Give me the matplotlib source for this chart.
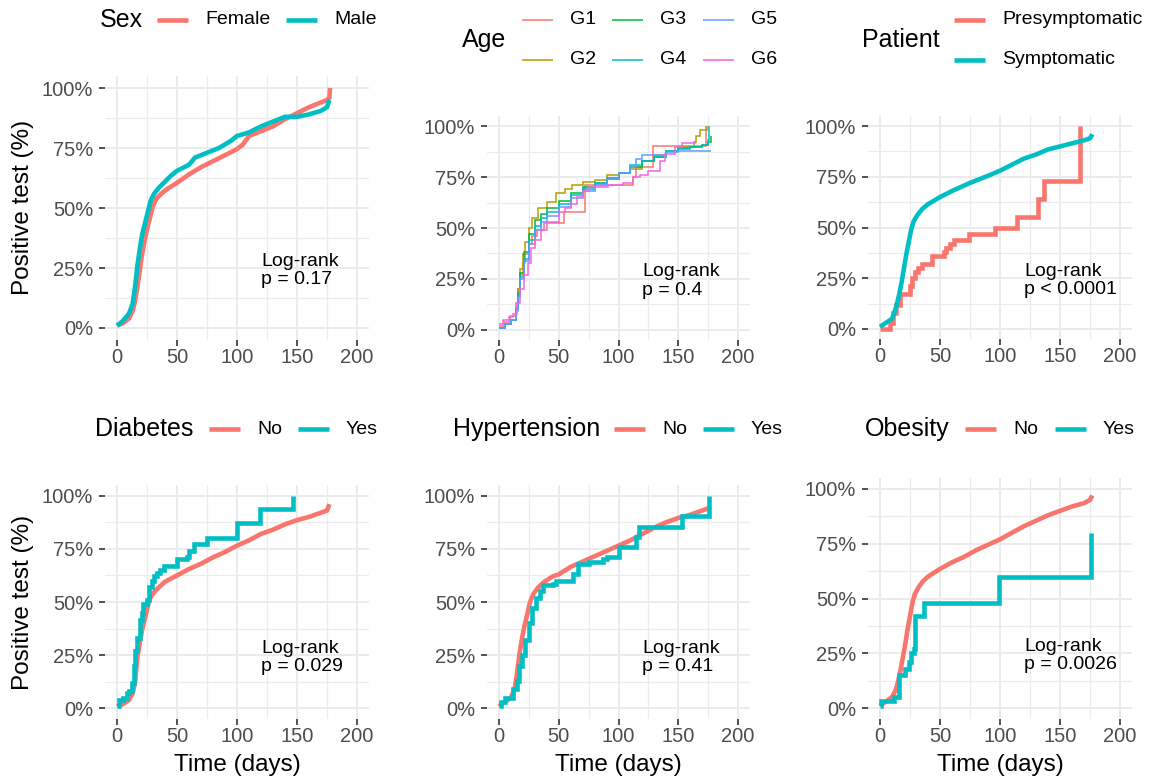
import matplotlib
matplotlib.use('Agg')
import matplotlib.pyplot as plt
from matplotlib.lines import Line2D
from matplotlib.ticker import FuncFormatter, MultipleLocator
import numpy as np

plt.rcParams['font.family'] = ['Liberation Sans', 'DejaVu Sans']

# ---- data (time in days, cumulative % positive) ----
female_t = [0, 5, 10, 13, 15, 17, 19, 21, 24, 27, 30, 33, 37, 42, 50, 60, 70, 80, 90, 100, 105, 110, 120, 130, 140, 150, 160, 170, 175, 177, 177.5]
female_y = [1, 2, 4, 7, 11, 17, 24, 31, 39, 45, 51, 54, 56, 58, 60.5, 64, 67, 69.5, 72, 74.5, 76.5, 80, 82, 84, 87, 89.5, 92, 94, 95, 96, 100]
male_t = [0, 5, 10, 13, 15, 17, 19, 21, 24, 26, 28, 31, 35, 40, 45, 50, 60, 65, 75, 85, 95, 100, 110, 120, 130, 140, 150, 160, 170, 175, 177]
male_y = [1, 3, 6, 10, 17, 26, 33, 39, 45, 49, 53, 56, 58.5, 61, 63.5, 65.5, 68, 71, 73, 75, 78, 80, 81.5, 84, 86, 88, 88, 89, 90.5, 92, 95]

g1_t = [0, 4, 9, 14, 16, 18, 20, 22, 25, 28, 32, 38, 54, 72, 112, 115, 129, 173]
g1_y = [2, 4, 7, 13, 20, 27, 33, 37, 42, 46, 49, 52.5, 58, 71, 75, 80, 90.5, 100]
g2_t = [0, 5, 10, 14, 16, 18, 20, 22, 25, 28, 33, 40, 48, 55, 61, 70, 80, 90, 100, 110, 120, 130, 140, 150, 163, 165, 168, 174]
g2_y = [1, 3, 5, 10, 20, 30, 37, 43, 50, 55, 60, 63, 67, 69, 71, 72.5, 73.5, 76, 77, 79, 83, 86, 88, 90, 92, 95, 98, 100]
g3_t = [0, 5, 10, 14, 16, 18, 21, 25, 30, 35, 40, 50, 60, 70, 80, 90, 100, 110, 120, 130, 140, 150, 160, 170, 175, 177]
g3_y = [1, 3, 5, 10, 18, 28, 38, 47, 54, 57, 60, 63.5, 67, 70, 72, 74.5, 77, 80, 83, 85, 88, 89.5, 90, 91, 92, 95]
g4_t = [0, 5, 10, 14, 16, 18, 21, 25, 30, 35, 40, 50, 60, 70, 80, 90, 100, 110, 120, 130, 140, 150, 160, 170, 175, 176]
g4_y = [1, 3, 5, 10, 17, 26, 35, 44, 51, 55, 58, 62, 66, 69, 72, 74, 77, 81, 83, 85, 88, 89, 90, 91, 93, 100]
g5_t = [0, 5, 10, 14, 16, 18, 21, 25, 30, 35, 40, 50, 60, 70, 80, 90, 100, 110, 115, 120, 140, 150, 177]
g5_y = [1, 3, 5, 9, 16, 25, 34, 42, 49, 53, 56, 60.5, 64.5, 68, 71, 74, 77, 80, 84, 86, 87.5, 88, 88]
g6_t = [0, 3, 8, 12, 15, 18, 21, 24, 27, 30, 35, 40, 50, 55, 60, 65, 70, 75, 91, 104, 112, 118, 125, 135, 139, 147, 153, 165]
g6_y = [3, 5, 6.5, 8, 13, 20, 27, 33, 40, 44, 49, 53, 58, 60, 62, 65, 68, 70, 71, 72, 75, 76, 78, 83, 86.5, 90, 91.5, 91.5]

pre_t = [0, 8, 11, 13, 17, 25, 27, 29, 32, 35, 43, 53, 55, 58, 62, 74, 96, 114, 132, 137, 167]
pre_y = [0, 3, 8, 12, 17, 21, 25, 28, 30, 32, 36, 38, 40, 42, 44, 47, 50, 55, 64, 73, 100]
symp_t = [0, 5, 10, 12, 14, 16, 18, 20, 22, 24, 26, 28, 31, 35, 40, 50, 60, 75, 90, 100, 110, 120, 130, 140, 150, 160, 170, 175, 177]
symp_y = [1, 3, 5, 8, 12, 17, 23, 30, 37, 43, 49, 53, 56, 59, 61.5, 65, 68, 72, 75.5, 78, 81, 84, 86, 88.5, 90, 91.5, 93, 94, 96]

dia_no_t = [0, 5, 10, 13, 15, 17, 19, 21, 24, 27, 30, 35, 40, 50, 60, 70, 80, 90, 100, 110, 120, 130, 140, 150, 160, 170, 175, 177]
dia_no_y = [1, 2, 4, 7, 12, 24, 31, 37, 44, 51, 54, 57, 59.5, 62.5, 65.5, 68, 71, 73.5, 76.5, 79, 82, 84, 86.5, 88.5, 90, 92, 93, 96]
dia_yes_t = [0, 2, 5, 8, 10, 12.5, 14, 15, 17, 19, 21, 22, 25, 27, 29, 31, 33, 36, 39, 50, 58, 60, 64, 75, 100, 119, 147]
dia_yes_y = [1, 4, 5, 7, 8, 12, 20, 27, 33, 41.5, 45, 49, 51, 57, 60, 62, 63.5, 65, 67, 70, 71, 74, 77.5, 80, 87, 93.7, 100]

hyp_no_t = [0, 5, 10, 13, 15, 17, 19, 21, 24, 26, 29, 33, 38, 45, 50, 60, 70, 80, 90, 100, 110, 120, 130, 140, 150, 160, 170, 175, 177]
hyp_no_y = [1, 3, 5, 9, 16, 25, 32, 38, 45, 50, 54, 57, 59.5, 62, 63, 66.5, 69, 71.5, 74, 76.5, 79, 82, 85, 87.5, 89.5, 91, 93, 94, 95]
hyp_yes_t = [0, 2, 5, 10, 12, 15, 17, 19, 22, 25, 28, 31, 34, 37, 45, 48, 61, 62, 66, 75, 87, 90, 100, 114, 115, 117, 153, 175.5]
hyp_yes_y = [1, 3, 5, 5, 9, 13, 20, 25, 32, 40, 47, 52, 55, 58, 58.5, 60, 60, 63, 68, 69, 70, 71.3, 76, 76, 80.7, 85.4, 90.4, 100]

ob_no_t = [0, 5, 10, 13, 15, 17, 19, 21, 23, 25, 27, 29, 32, 36, 40, 50, 60, 70, 80, 90, 100, 110, 120, 130, 140, 150, 160, 170, 175, 177]
ob_no_y = [1, 3, 5, 8, 12, 17, 23, 29, 36, 42, 48, 52, 55, 58, 60, 63.5, 66.5, 69, 72, 74.5, 77, 80, 83, 85.5, 88, 90, 92, 93.5, 95, 97]
ob_yes_t = [0, 1, 12, 16, 21, 24, 26, 28, 29, 37, 99, 176]
ob_yes_y = [1, 3, 5, 15, 18, 21, 25, 27, 42, 48, 60, 80]

p_values = ['p = 0.17', 'p = 0.4', 'p < 0.0001', 'p = 0.029', 'p = 0.41', 'p = 0.0026']

RED, CYAN = '#F8766D', '#00BFC4'
AGE_COLORS = ['#F8766D', '#B79F00', '#00BA38', '#00BFC4', '#619CFF', '#F564E3']

W, H = 1160, 781
fig = plt.figure(figsize=(W / 100, H / 100), dpi=100)
fig.patch.set_facecolor('white')


def fig_xy(px, py):
    return px / W, 1 - py / H


def make_axes(x0, y0, x1, y1):
    ax = fig.add_axes([x0 / W, 1 - y1 / H, (x1 - x0) / W, (y1 - y0) / H])
    ax.set_xlim(-10, 210)
    ax.set_ylim(-0.05, 1.05)
    ax.xaxis.set_major_locator(MultipleLocator(50))
    ax.xaxis.set_minor_locator(MultipleLocator(25))
    ax.yaxis.set_major_locator(MultipleLocator(0.25))
    ax.yaxis.set_minor_locator(MultipleLocator(0.125))
    ax.yaxis.set_major_formatter(FuncFormatter(lambda v, _: f'{v * 100:.0f}%'))
    ax.grid(True, which='major', color='#EBEBEB', lw=1.4)
    ax.grid(True, which='minor', color='#EBEBEB', lw=0.9)
    ax.set_axisbelow(True)
    for s in ax.spines.values():
        s.set_visible(False)
    ax.tick_params(which='major', length=4.5, width=1.2, color='#333333',
                   labelsize=14.5, labelcolor='#4D4D4D')
    ax.tick_params(axis='x', pad=1)
    ax.tick_params(axis='y', pad=4)
    ax.tick_params(which='minor', length=0)
    return ax


def draw(ax, t, y, color, lw, steps):
    ax.plot(t, np.array(y) / 100, color=color, lw=lw,
            drawstyle='steps-post' if steps else 'default',
            solid_joinstyle='miter', solid_capstyle='butt')


def legend(title, tx, ty, entries, lw):
    # entries: (label, color, line_x, line_y)
    fig.text(*fig_xy(tx, ty), title, fontsize=18, ha='left', va='center')
    for label, color, lx, ly in entries:
        x0, yy = fig_xy(lx, ly)
        x1, _ = fig_xy(lx + 31, ly)
        fig.add_artist(Line2D([x0, x1], [yy, yy], color=color, lw=lw,
                              solid_capstyle='butt', transform=fig.transFigure))
        fig.text(*fig_xy(lx + 48, ly), label, fontsize=14, ha='left', va='center')


THICK, THIN = 3.3, 1.1

# Sex
ax1 = make_axes(105, 76, 369, 340)
draw(ax1, female_t, female_y, RED, THICK, False)
draw(ax1, male_t, male_y, CYAN, THICK, False)
legend('Sex', 100, 20, [('Female', RED, 157, 20), ('Male', CYAN, 286, 20)], THICK)

# Age
ax2 = make_axes(487, 116, 750, 340)
age_series = [(g1_t, g1_y), (g2_t, g2_y), (g3_t, g3_y), (g4_t, g4_y), (g5_t, g5_y), (g6_t, g6_y)]
for (t, y), c in zip(age_series, AGE_COLORS):
    draw(ax2, t, y, c, THIN, True)
age_labels = ['G1', 'G2', 'G3', 'G4', 'G5', 'G6']
age_cols = [522, 612, 703]
age_rows = [20, 60]
legend('Age', 462, 40,
       [(lab, c, age_cols[i // 2], age_rows[i % 2]) for i, (lab, c) in enumerate(zip(age_labels, AGE_COLORS))],
       THIN)

# Patient
ax3 = make_axes(868, 116, 1132, 339)
draw(ax3, pre_t, pre_y, RED, THICK, True)
draw(ax3, symp_t, symp_y, CYAN, THICK, False)
legend('Patient', 862, 40, [('Presymptomatic', RED, 954, 20), ('Symptomatic', CYAN, 954, 60)], THICK)

# Diabetes
ax4 = make_axes(105, 485, 369, 719)
draw(ax4, dia_no_t, dia_no_y, RED, THICK, False)
draw(ax4, dia_yes_t, dia_yes_y, CYAN, THICK, True)
legend('Diabetes', 95, 429, [('No', RED, 209, 429), ('Yes', CYAN, 298, 429)], THICK)

# Hypertension
ax5 = make_axes(487, 485, 750, 719)
draw(ax5, hyp_no_t, hyp_no_y, RED, THICK, False)
draw(ax5, hyp_yes_t, hyp_yes_y, CYAN, THICK, True)
legend('Hypertension', 453, 429, [('No', RED, 614, 429), ('Yes', CYAN, 703, 429)], THICK)

# Obesity
ax6 = make_axes(868, 478, 1132, 719)
draw(ax6, ob_no_t, ob_no_y, RED, THICK, False)
draw(ax6, ob_yes_t, ob_yes_y, CYAN, THICK, True)
legend('Obesity', 865, 429, [('No', RED, 965, 429), ('Yes', CYAN, 1055, 429)], THICK)

for ax, p in zip([ax1, ax2, ax3, ax4, ax5, ax6], p_values):
    ax.text(120, 0.24, 'Log-rank\n' + p, fontsize=14, ha='left', va='center',
            linespacing=1.1)

# axis titles
for py in (207, 602):
    fig.text(*fig_xy(23, py), 'Positive test (%)', rotation=90, fontsize=17.5,
             ha='center', va='center')
for px in (237, 618.5, 1000):
    fig.text(*fig_xy(px, 765), 'Time (days)', fontsize=17.5, ha='center', va='center')

fig.savefig('out.png', dpi=100, facecolor='white')
